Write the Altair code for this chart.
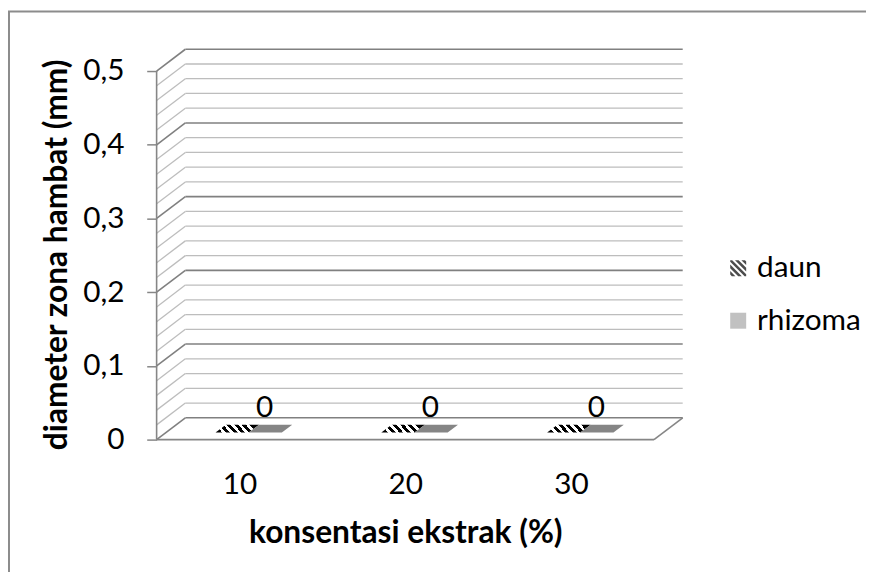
import json
import altair as alt
import pandas as pd

# ---------------- data ----------------
categories = ["10", "20", "30"]
series = ["daun", "rhizoma"]
daun_values = [0, 0, 0]
rhizoma_values = [0, 0, 0]
y_ticks = [0, 0.1, 0.2, 0.3, 0.4, 0.5]
grid_values = [0, 0.02, 0.04, 0.06, 0.08, 0.1, 0.12, 0.14, 0.16, 0.18, 0.2,
               0.22, 0.24, 0.26, 0.28, 0.3, 0.32, 0.34, 0.36, 0.38, 0.4,
               0.42, 0.44, 0.46, 0.48, 0.5]
y_max = 0.5
x_title = "konsentasi ekstrak (%)"
y_title = "diameter zona hambat (mm)"

# ---------------- 3D look (style constants) ----------------
DX = 0.1733   # depth shift, in category-band units
DY = 0.0296   # depth shift, in value units
BAR_W = 0.2   # width of one series bar, in band units
F_FRONT, F_BACK = 0.32, 0.68   # depth fractions of bar front/back edges
FONT = "Lato"
FS = 30
FS_TITLE = 32
GRID_MAJOR = "#808080"
GRID_MINOR = "#bdbdbd"
FRAME = "#868686"

n = len(categories)
W, H = 531, 394

xs = alt.Scale(domain=[0, n + DX], nice=False, zero=False)
ys = alt.Scale(domain=[0, y_max + DY], nice=False, zero=False)

cat_js = json.dumps(categories)
x_axis = alt.Axis(
    values=[i + 0.5 for i in range(n)],
    labelExpr=f"{cat_js}[floor(datum.value)]",
    ticks=False, tickSize=0, domain=False, grid=False,
    labelFont=FONT, labelFontSize=FS, labelColor="#000000",
    labelBaseline="alphabetic", labelPadding=54,
    title=x_title, titleFont=FONT, titleFontSize=FS_TITLE, titleFontWeight="bold",
    titleColor="#000000", titleX=251, titleY=104, titleAlign="center",
    titleBaseline="alphabetic",
)
y_axis = alt.Axis(
    values=y_ticks,
    labelExpr="datum.value == 0 ? '0' : replace(format(datum.value, '.1f'), '.', ',')",
    ticks=True, tickSize=10, tickColor=FRAME, tickWidth=1.5,
    domain=False, grid=False,
    labelFont=FONT, labelFontSize=FS, labelColor="#000000", labelPadding=23,
    title=y_title, titleFont=FONT, titleFontSize=FS_TITLE, titleFontWeight="bold",
    titleColor="#000000", titleX=-91, titleY=207, titleAlign="center",
    titleBaseline="alphabetic", titleAngle=270,
)

# ---------------- grid (back wall + side wall) ----------------
grid_df = pd.DataFrame({"v": grid_values})
grid_df["major"] = [abs(v * 10 - round(v * 10)) < 1e-6 for v in grid_values]
grid_df["x0"] = 0.0
grid_df["x1"] = DX
grid_df["xe"] = n + DX
grid_df["yb"] = grid_df["v"] + DY

back = alt.Chart(grid_df).mark_rule().encode(
    x=alt.X("x1:Q", scale=xs, axis=x_axis),
    x2="xe:Q",
    y=alt.Y("yb:Q", scale=ys, axis=y_axis),
    color=alt.condition("datum.major", alt.value(GRID_MAJOR), alt.value(GRID_MINOR)),
    strokeWidth=alt.condition("datum.major", alt.value(1.6), alt.value(1.3)),
)
side = alt.Chart(grid_df).mark_rule().encode(
    x=alt.X("x0:Q", scale=xs, axis=x_axis),
    x2="x1:Q",
    y=alt.Y("v:Q", scale=ys, axis=y_axis),
    y2="yb:Q",
    color=alt.condition("datum.major", alt.value(GRID_MAJOR), alt.value(GRID_MINOR)),
    strokeWidth=alt.condition("datum.major", alt.value(1.6), alt.value(1.3)),
)

frame_df = pd.DataFrame({
    "x": [0, 0, n],
    "x2": [n, 0, n + DX],
    "y": [0, 0, 0],
    "y2": [0, y_max, DY],
})
frame = alt.Chart(frame_df).mark_rule(color=FRAME, strokeWidth=1.6).encode(
    x=alt.X("x:Q", scale=xs, axis=x_axis),
    x2="x2:Q",
    y=alt.Y("y:Q", scale=ys, axis=y_axis),
    y2="y2:Q",
)

# ---------------- flat 3D bars (top faces at value height) ----------------
rows = []
for i, cat in enumerate(categories):
    for s_idx, (name, vals) in enumerate(zip(series, [daun_values, rhizoma_values])):
        v = vals[i]
        xl = i + 0.5 - BAR_W + s_idx * BAR_W
        xr = xl + BAR_W
        yf = v + F_FRONT * DY
        yb = v + F_BACK * DY
        key = f"{cat}-{name}"
        # x position, top boundary, bottom boundary of the parallelogram
        pts = [
            (xl + F_FRONT * DX, yf, yf),
            (xl + F_BACK * DX, yb, yf),
            (xr + F_FRONT * DX, yb, yf),
            (xr + F_BACK * DX, yb, yb),
        ]
        for k, (px, ptop, pbot) in enumerate(pts):
            rows.append({"key": key, "series": name, "ord": k,
                         "px": px, "ytop": ptop, "ybot": pbot})
bars_df = pd.DataFrame(rows)

hatch_fill = alt.LinearGradient(
    gradient="linear",
    stops=[alt.GradientStop(offset=o, color=c) for o, c in [
        (0.0, "#000000"), (0.09, "#000000"), (0.09, "#ffffff"), (0.17, "#ffffff"),
        (0.17, "#000000"), (0.26, "#000000"), (0.26, "#ffffff"), (0.34, "#ffffff"),
        (0.34, "#000000"), (0.43, "#000000"), (0.43, "#ffffff"), (0.51, "#ffffff"),
        (0.51, "#000000"), (0.60, "#000000"), (0.60, "#ffffff"), (0.68, "#ffffff"),
        (0.68, "#000000"), (0.77, "#000000"), (0.77, "#ffffff"), (0.85, "#ffffff"),
        (0.85, "#000000"), (1.0, "#000000"),
    ]],
    x1=0, y1=0.58, x2=1, y2=0.42,
)

bars_daun = alt.Chart(bars_df).transform_filter(
    "datum.series == 'daun'"
).mark_area(interpolate="linear").encode(
    x=alt.X("px:Q", scale=xs, axis=x_axis),
    y=alt.Y("ytop:Q", scale=ys, axis=y_axis, stack=None),
    y2="ybot:Q",
    detail="key:N",
    fill=alt.value(hatch_fill),
    opacity=alt.value(1),
)
bars_rhizoma = alt.Chart(bars_df).transform_filter(
    "datum.series == 'rhizoma'"
).mark_area(interpolate="linear").encode(
    x=alt.X("px:Q", scale=xs, axis=x_axis),
    y=alt.Y("ytop:Q", scale=ys, axis=y_axis, stack=None),
    y2="ybot:Q",
    detail="key:N",
    color=alt.value("#858585"),
    opacity=alt.value(1),
)

# ---------------- value labels ----------------
lab_df = pd.DataFrame({
    "cat": categories,
    "val": rhizoma_values,
})
lab_df["px"] = [i + 0.5 + BAR_W / 2 + 0.3 * DX for i in range(n)]
lab_df["py"] = [v + 0.3 * DY for v in rhizoma_values]
labels = alt.Chart(lab_df).mark_text(
    font=FONT, fontSize=FS, color="#000000", baseline="middle", dy=-25
).encode(
    x=alt.X("px:Q", scale=xs, axis=x_axis),
    y=alt.Y("py:Q", scale=ys, axis=y_axis),
    text="val:Q",
)

# ---------------- legend ----------------
def clip(poly, f):
    out = []
    m = len(poly)
    for i in range(m):
        p, q = poly[i], poly[(i + 1) % m]
        fp, fq = f(p), f(q)
        if fp >= 0:
            out.append(p)
        if (fp >= 0) != (fq >= 0):
            t = fp / (fp - fq)
            out.append((p[0] + t * (q[0] - p[0]), p[1] + t * (q[1] - p[1])))
    return out

square = [(-1, -1), (1, -1), (1, 1), (-1, 1)]
paths = []
for b in [-1.85, -1.05, -0.25, 0.55, 1.35]:
    poly = clip(square, lambda p, b=b: (p[1] - p[0]) - b)
    poly = clip(poly, lambda p, b=b: (b + 0.45) - (p[1] - p[0]))
    if len(poly) >= 3:
        paths.append("M" + "L".join(f"{x:.3f},{y:.3f}" for x, y in poly) + "Z")
hatch_path = " ".join(paths)

leg_kw = dict(
    title=None, orient="none", legendX=572, legendY=206, padding=0,
    labelFont=FONT, labelFontSize=FS, labelColor="#000000",
    symbolSize=260, symbolStrokeWidth=0, labelOffset=4, rowPadding=23,
    symbolType="square",
)
legend_df = pd.DataFrame({"series": series, "lx": [0.0, 0.0], "ly": [0.0, 0.0]})
legend_layer = alt.Chart(legend_df).transform_filter("false").mark_point(
    filled=True, strokeWidth=0
).encode(
    x=alt.X("lx:Q", scale=xs, axis=x_axis),
    y=alt.Y("ly:Q", scale=ys, axis=y_axis),
    color=alt.Color("series:N", scale=alt.Scale(domain=series, range=["#000000", "#a6a6a6"]),
                    legend=alt.Legend(**leg_kw)),
    shape=alt.Shape("series:N", scale=alt.Scale(domain=series, range=[hatch_path, "square"]),
                    legend=alt.Legend(**leg_kw)),
)

# ---------------- outer chart border ----------------
border = alt.Chart(pd.DataFrame({"a": [0]})).mark_rect(
    fill=None, stroke="#8c8c8c", strokeWidth=2
).encode(
    x=alt.value(-149), x2=alt.value(W + 200),
    y=alt.value(-38), y2=alt.value(H + 200),
)

chart = alt.layer(
    border, side, back, frame, bars_daun, bars_rhizoma, labels, legend_layer
).properties(
    width=W, height=H,
    autosize=alt.AutoSizeParams(type="none"),
    padding={"left": 150, "top": 39, "right": 185, "bottom": 131},
    background="white",
).configure_view(stroke=None)

chart.save("out.html", embed_options={"renderer": "svg", "actions": False})
